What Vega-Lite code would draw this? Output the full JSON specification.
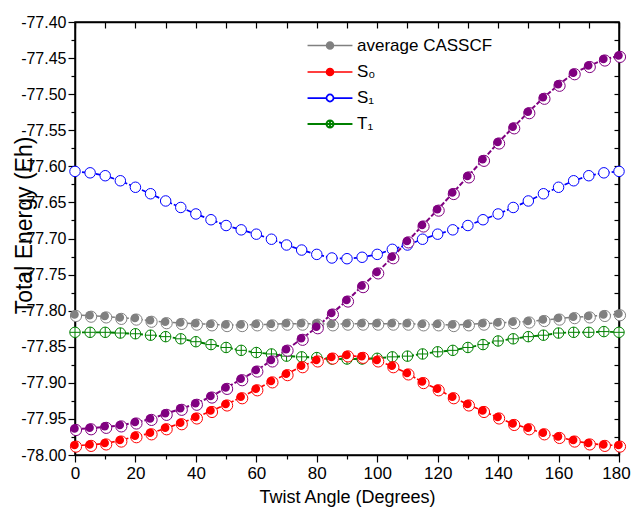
{
  "$schema": "https://vega.github.io/schema/vega-lite/v6.json",
  "width": 544,
  "height": 433,
  "autosize": "none",
  "padding": {"left": 75, "top": 22, "right": 12, "bottom": 60},
  "background": "white",
  "data": {"values": [
    {"a": 0, "avg": -77.806, "S0": -77.987, "S1": -77.607, "T1": -77.830, "P": -77.964},
    {"a": 5, "avg": -77.807, "S0": -77.986, "S1": -77.609, "T1": -77.830, "P": -77.963},
    {"a": 10, "avg": -77.808, "S0": -77.984, "S1": -77.613, "T1": -77.830, "P": -77.961},
    {"a": 15, "avg": -77.810, "S0": -77.980, "S1": -77.620, "T1": -77.831, "P": -77.959},
    {"a": 20, "avg": -77.811, "S0": -77.974, "S1": -77.629, "T1": -77.832, "P": -77.955},
    {"a": 25, "avg": -77.814, "S0": -77.970, "S1": -77.638, "T1": -77.834, "P": -77.950},
    {"a": 30, "avg": -77.816, "S0": -77.963, "S1": -77.648, "T1": -77.836, "P": -77.943},
    {"a": 35, "avg": -77.817, "S0": -77.956, "S1": -77.657, "T1": -77.839, "P": -77.936},
    {"a": 40, "avg": -77.818, "S0": -77.948, "S1": -77.666, "T1": -77.843, "P": -77.929},
    {"a": 45, "avg": -77.819, "S0": -77.939, "S1": -77.674, "T1": -77.847, "P": -77.919},
    {"a": 50, "avg": -77.820, "S0": -77.930, "S1": -77.682, "T1": -77.851, "P": -77.907},
    {"a": 55, "avg": -77.820, "S0": -77.920, "S1": -77.688, "T1": -77.855, "P": -77.895},
    {"a": 60, "avg": -77.819, "S0": -77.909, "S1": -77.694, "T1": -77.858, "P": -77.883},
    {"a": 65, "avg": -77.819, "S0": -77.898, "S1": -77.701, "T1": -77.860, "P": -77.869},
    {"a": 70, "avg": -77.818, "S0": -77.888, "S1": -77.709, "T1": -77.863, "P": -77.854},
    {"a": 75, "avg": -77.818, "S0": -77.877, "S1": -77.716, "T1": -77.864, "P": -77.839},
    {"a": 80, "avg": -77.818, "S0": -77.869, "S1": -77.722, "T1": -77.865, "P": -77.823},
    {"a": 85, "avg": -77.819, "S0": -77.865, "S1": -77.727, "T1": -77.867, "P": -77.804},
    {"a": 90, "avg": -77.818, "S0": -77.862, "S1": -77.728, "T1": -77.867, "P": -77.786},
    {"a": 95, "avg": -77.818, "S0": -77.864, "S1": -77.726, "T1": -77.867, "P": -77.766},
    {"a": 100, "avg": -77.818, "S0": -77.869, "S1": -77.722, "T1": -77.866, "P": -77.747},
    {"a": 105, "avg": -77.818, "S0": -77.877, "S1": -77.715, "T1": -77.864, "P": -77.726},
    {"a": 110, "avg": -77.818, "S0": -77.887, "S1": -77.709, "T1": -77.863, "P": -77.704},
    {"a": 115, "avg": -77.819, "S0": -77.899, "S1": -77.701, "T1": -77.860, "P": -77.682},
    {"a": 120, "avg": -77.819, "S0": -77.909, "S1": -77.694, "T1": -77.857, "P": -77.660},
    {"a": 125, "avg": -77.820, "S0": -77.920, "S1": -77.688, "T1": -77.855, "P": -77.637},
    {"a": 130, "avg": -77.819, "S0": -77.930, "S1": -77.682, "T1": -77.851, "P": -77.614},
    {"a": 135, "avg": -77.818, "S0": -77.939, "S1": -77.674, "T1": -77.847, "P": -77.591},
    {"a": 140, "avg": -77.817, "S0": -77.948, "S1": -77.666, "T1": -77.842, "P": -77.567},
    {"a": 145, "avg": -77.816, "S0": -77.957, "S1": -77.657, "T1": -77.839, "P": -77.546},
    {"a": 150, "avg": -77.815, "S0": -77.963, "S1": -77.648, "T1": -77.836, "P": -77.525},
    {"a": 155, "avg": -77.813, "S0": -77.970, "S1": -77.638, "T1": -77.834, "P": -77.505},
    {"a": 160, "avg": -77.811, "S0": -77.975, "S1": -77.629, "T1": -77.831, "P": -77.487},
    {"a": 165, "avg": -77.809, "S0": -77.980, "S1": -77.620, "T1": -77.830, "P": -77.471},
    {"a": 170, "avg": -77.808, "S0": -77.984, "S1": -77.613, "T1": -77.830, "P": -77.461},
    {"a": 175, "avg": -77.806, "S0": -77.986, "S1": -77.609, "T1": -77.829, "P": -77.452},
    {"a": 180, "avg": -77.805, "S0": -77.987, "S1": -77.607, "T1": -77.830, "P": -77.447}
  ]},
  "transform": [{"fold": ["T1", "avg", "S1", "S0", "P"], "as": ["series", "E"]}],
  "layer": [
    {
      "mark": {"type": "point", "filled": false, "strokeWidth": 2, "opacity": 0},
      "encoding": {
        "x": {"field": "a", "type": "quantitative", "axis": null},
        "y": {"field": "E", "type": "quantitative", "axis": null},
        "color": {"field": "series", "type": "nominal",
          "scale": {"domain": ["avg", "S0", "S1", "T1", "P"], "range": ["#808080", "#ff0000", "#0000ff", "#008000", "#800080"]},
          "legend": {"values": ["avg", "S0", "S1", "T1"], "orient": "none", "legendX": 242, "legendY": 11, "padding": 0, "title": null,
            "labelExpr": "datum.label == 'avg' ? 'average CASSCF' : datum.label == 'S0' ? 'S\u2080' : datum.label == 'S1' ? 'S\u2081' : 'T\u2081'",
            "labelFontSize": 17, "labelColor": "black", "labelOffset": 14, "rowPadding": 5, "symbolSize": 547, "symbolStrokeWidth": 2, "symbolOpacity": 1}},
        "fill": {"field": "series", "type": "nominal",
          "scale": {"domain": ["avg", "S0", "S1", "T1", "P"], "range": ["#808080", "#ff0000", "#ffffff", "#ffffff", "#800080"]},
          "legend": {"values": ["avg", "S0", "S1", "T1"], "orient": "none", "legendX": 242, "legendY": 11, "padding": 0, "title": null,
            "labelExpr": "datum.label == 'avg' ? 'average CASSCF' : datum.label == 'S0' ? 'S\u2080' : datum.label == 'S1' ? 'S\u2081' : 'T\u2081'",
            "labelFontSize": 17, "labelColor": "black", "labelOffset": 14, "rowPadding": 5, "symbolSize": 547, "symbolStrokeWidth": 2, "symbolOpacity": 1}},
        "shape": {"field": "series", "type": "nominal",
          "scale": {"domain": ["avg", "S0", "S1", "T1", "P"], "range": [
            "M-1.92,0H-0.3M0.3,0H1.92M0.3,0A0.3,0.3,0,1,1,-0.3,0A0.3,0.3,0,1,1,0.3,0Z",
            "M-1.92,0H-0.3M0.3,0H1.92M0.3,0A0.3,0.3,0,1,1,-0.3,0A0.3,0.3,0,1,1,0.3,0Z",
            "M-1.92,0H-0.3M0.3,0H1.92M0.3,0A0.3,0.3,0,1,1,-0.3,0A0.3,0.3,0,1,1,0.3,0Z",
            "M-1.92,0H-0.3M0.3,0H1.92M0.3,0A0.3,0.3,0,1,1,-0.3,0A0.3,0.3,0,1,1,0.3,0ZM-0.3,0H0.3M0,-0.3V0.3",
            "M-1.92,0H-0.3M0.3,0H1.92M0.3,0A0.3,0.3,0,1,1,-0.3,0A0.3,0.3,0,1,1,0.3,0Z"]},
          "legend": {"values": ["avg", "S0", "S1", "T1"], "orient": "none", "legendX": 242, "legendY": 11, "padding": 0, "title": null,
            "labelExpr": "datum.label == 'avg' ? 'average CASSCF' : datum.label == 'S0' ? 'S\u2080' : datum.label == 'S1' ? 'S\u2081' : 'T\u2081'",
            "labelFontSize": 17, "labelColor": "black", "labelOffset": 14, "rowPadding": 5, "symbolSize": 547, "symbolStrokeWidth": 2, "symbolOpacity": 1}}
      }
    },
    {
      "mark": {"type": "line", "strokeDash": [5, 2]},
      "encoding": {
        "x": {"field": "a", "type": "quantitative", "scale": {"domain": [0, 180], "nice": false},
          "axis": {"values": [0,10,20,30,40,50,60,70,80,90,100,110,120,130,140,150,160,170,180],
            "labelExpr": "datum.value % 20 === 0 ? datum.label : ''",
            "tickSize": {"condition": {"test": "datum.value % 20 === 0", "value": 7}, "value": 4},
            "labelOffset": {"condition": {"test": "datum.value === 180", "value": -3}, "value": 0},
            "labelFlush": false,
            "labelFontSize": 17, "labelPadding": 3, "title": "Twist Angle (Degrees)", "titleFontSize": 18, "titlePadding": 7}},
        "y": {"field": "E", "type": "quantitative", "scale": {"domain": [-78, -77.4], "nice": false, "zero": false},
          "axis": {"values": [-78,-77.975,-77.95,-77.925,-77.9,-77.875,-77.85,-77.825,-77.8,-77.775,-77.75,-77.725,-77.7,-77.675,-77.65,-77.625,-77.6,-77.575,-77.55,-77.525,-77.5,-77.475,-77.45,-77.425,-77.4],
            "labelExpr": "abs(round(datum.value*1000)) % 50 === 0 ? replace(format(datum.value, '.2f'), '\u2212', '-') : ''",
            "tickSize": {"condition": {"test": "abs(round(datum.value*1000)) % 50 === 0", "value": 7}, "value": 4},
            "labelFlush": false,
            "labelFontSize": 16, "labelPadding": 2,
            "title": "Total Energy (Eh)", "titleFontSize": 23, "titleX": -44, "titleY": 203, "titleBaseline": "alphabetic", "titleAlign": "center", "titleAngle": -90}},
        "stroke": {"field": "series", "type": "nominal",
          "scale": {"domain": ["avg", "S0", "S1", "T1", "P"], "range": ["#808080", "#ff0000", "#0000ff", "#008000", "#800080"]},
          "legend": null},
        "strokeWidth": {"field": "series", "type": "nominal", "scale": {"domain": ["avg", "S0", "S1", "T1", "P"], "range": [1.5, 2, 1.5, 1.5, 3]}, "legend": null}
      }
    },
    {
      "transform": [{"filter": "datum.series === 'T1'"}],
      "mark": {"type": "point", "shape": "M-1,0A1,1,0,1,1,1,0A1,1,0,1,1,-1,0ZM-1,0H1M0,-1V1", "filled": true, "fill": "white", "stroke": "#008000", "strokeWidth": 1, "size": 110, "opacity": 1},
      "encoding": {"x": {"field": "a", "type": "quantitative", "axis": null}, "y": {"field": "E", "type": "quantitative", "axis": null}}
    },
    {
      "transform": [{"filter": "datum.series === 'S1'"}],
      "mark": {"type": "point", "shape": "circle", "filled": true, "fill": "white", "stroke": "#0000ff", "strokeWidth": 1, "size": 110, "opacity": 1},
      "encoding": {"x": {"field": "a", "type": "quantitative", "axis": null}, "y": {"field": "E", "type": "quantitative", "axis": null}}
    },
    {
      "transform": [{"filter": "datum.series === 'avg' || datum.series === 'S0' || datum.series === 'P'"}],
      "mark": {"type": "point", "shape": "circle", "filled": true, "fill": "white", "strokeWidth": 1, "size": 125, "opacity": 1, "xOffset": 1, "yOffset": 1},
      "encoding": {"x": {"field": "a", "type": "quantitative", "axis": null}, "y": {"field": "E", "type": "quantitative", "axis": null},
        "stroke": {"field": "series", "type": "nominal", "legend": null}}
    },
    {
      "transform": [{"filter": "datum.series === 'avg'"}],
      "mark": {"type": "point", "shape": "circle", "filled": true, "fill": "#808080", "strokeWidth": 0, "size": 72, "opacity": 1, "xOffset": -0.5, "yOffset": -0.5},
      "encoding": {"x": {"field": "a", "type": "quantitative", "axis": null}, "y": {"field": "E", "type": "quantitative", "axis": null}}
    },
    {
      "transform": [{"filter": "datum.series === 'S0'"}],
      "mark": {"type": "point", "shape": "circle", "filled": true, "fill": "#ff0000", "strokeWidth": 0, "size": 72, "opacity": 1, "xOffset": -0.5, "yOffset": -0.5},
      "encoding": {"x": {"field": "a", "type": "quantitative", "axis": null}, "y": {"field": "E", "type": "quantitative", "axis": null}}
    },
    {
      "transform": [{"filter": "datum.series === 'P'"}],
      "mark": {"type": "point", "shape": "circle", "filled": true, "fill": "#800080", "strokeWidth": 0, "size": 72, "opacity": 1, "xOffset": -0.5, "yOffset": -0.5},
      "encoding": {"x": {"field": "a", "type": "quantitative", "axis": null}, "y": {"field": "E", "type": "quantitative", "axis": null}}
    },
    {
      "mark": {"type": "point", "opacity": 0},
      "encoding": {
        "x": {"field": "a", "type": "quantitative",
          "axis": {"orient": "top", "values": [0,10,20,30,40,50,60,70,80,90,100,110,120,130,140,150,160,170,180], "labels": false, "tickSize": -6, "title": null}},
        "y": {"field": "E", "type": "quantitative",
          "axis": {"orient": "right", "values": [-78,-77.975,-77.95,-77.925,-77.9,-77.875,-77.85,-77.825,-77.8,-77.775,-77.75,-77.725,-77.7,-77.675,-77.65,-77.625,-77.6,-77.575,-77.55,-77.525,-77.5,-77.475,-77.45,-77.425,-77.4], "labels": false, "tickSize": -5, "title": null}}
      }
    }
  ],
  "resolve": {"axis": {"x": "independent", "y": "independent"}},
  "config": {
    "view": {"stroke": "black", "strokeWidth": 1.5},
    "axis": {"grid": false, "domainColor": "black", "domainWidth": 1.5, "tickColor": "black", "tickWidth": 1.2,
      "labelColor": "black", "titleColor": "black", "labelFont": "Liberation Sans", "titleFont": "Liberation Sans", "titleFontWeight": "normal"},
    "legend": {"labelFont": "Liberation Sans"}
  }
}
